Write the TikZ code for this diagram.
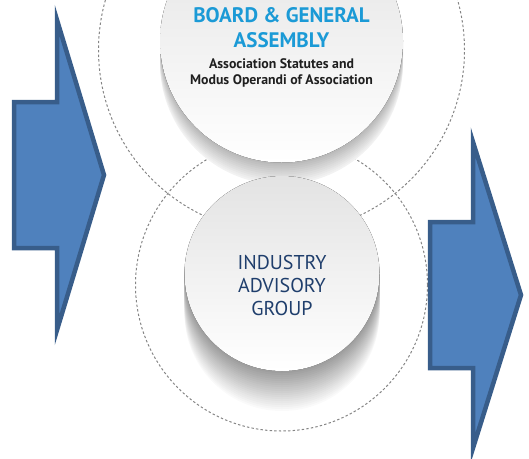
\documentclass[tikz,border=0pt]{standalone}
\usepackage{fontspec}
\setmainfont{PT Sans}
\usetikzlibrary{calc}
\definecolor{arrowblue}{HTML}{4F81BD}
\definecolor{arrowedge}{HTML}{385D8A}
\definecolor{boardblue}{HTML}{1B9AD6}
\definecolor{groupblue}{HTML}{1F3E6C}
\tikzset{
	ring/.style={draw=black!48, line width=1pt, dash pattern=on 2.4pt off 2.2pt},
	disc/.style={top color=black!11, bottom color=white},
	bigarrow/.style={fill=arrowblue, draw=arrowedge, line width=4.5pt, line join=miter},
}
\def\blockarrow(#1,#2)(#3:#4:#5:#6){\draw[bigarrow] (#1, #2-#5) -- (#3, #2-#5) -- (#3, #2-#6) -- (#4, #2) -- (#3, #2+#6) -- (#3, #2+#5) -- (#1, #2+#5) -- cycle;}

\begin{document}
\begin{tikzpicture}[x=1pt, y=-1pt]
			%%%%% START %%%%%
			
			\useasboundingbox (0, 0) rectangle (529, 458);
			\coordinate (boardc) at (281.5, 41);
			\coordinate (groupc) at (282, 273.5);
			
			\draw[ring] (281.5, 50) circle (183pt);
			\draw[ring] (281.5, 285) circle (146pt);
			
			\foreach \d in {22,20,...,2}{
				\pgfmathsetmacro\shade{5+(22-\d)*1.1}
				\fill[black!\shade] ($(boardc)+(0, \d)$) circle (121.5pt);
			}
			\fill[disc] (boardc) circle (121.5pt);
			
			\foreach \d in {40,38,...,2}{
				\pgfmathsetmacro\shade{2+(40-\d)*0.95}
				\fill[black!\shade] ($(groupc)+(0, \d)$) circle (97.5pt);
			}
			\fill[disc] (groupc) circle (97.5pt);
			
			\node[text=boardblue, font=\fontsize{21}{25}\selectfont\bfseries, align=center] (boardtitle) at (281.5, 27.5) {BOARD \& GENERAL\\ASSEMBLY};
			\node[text=black!88, font=\fontsize{13.8}{16}\selectfont\bfseries, align=center] (boardnote) at (281.5, 73) {Association Statutes and\\Modus Operandi of Association};
			\node[text=groupblue, font=\fontsize{20}{23}\selectfont, align=center] (grouptitle) at (282, 285) {INDUSTRY\\ADVISORY\\GROUP};
			
			\blockarrow(14,175)(57:104:73:155)
			\blockarrow(430,295)(473:521:73:153)
			
			%%%%% END %%%%%
\end{tikzpicture}
\end{document}
